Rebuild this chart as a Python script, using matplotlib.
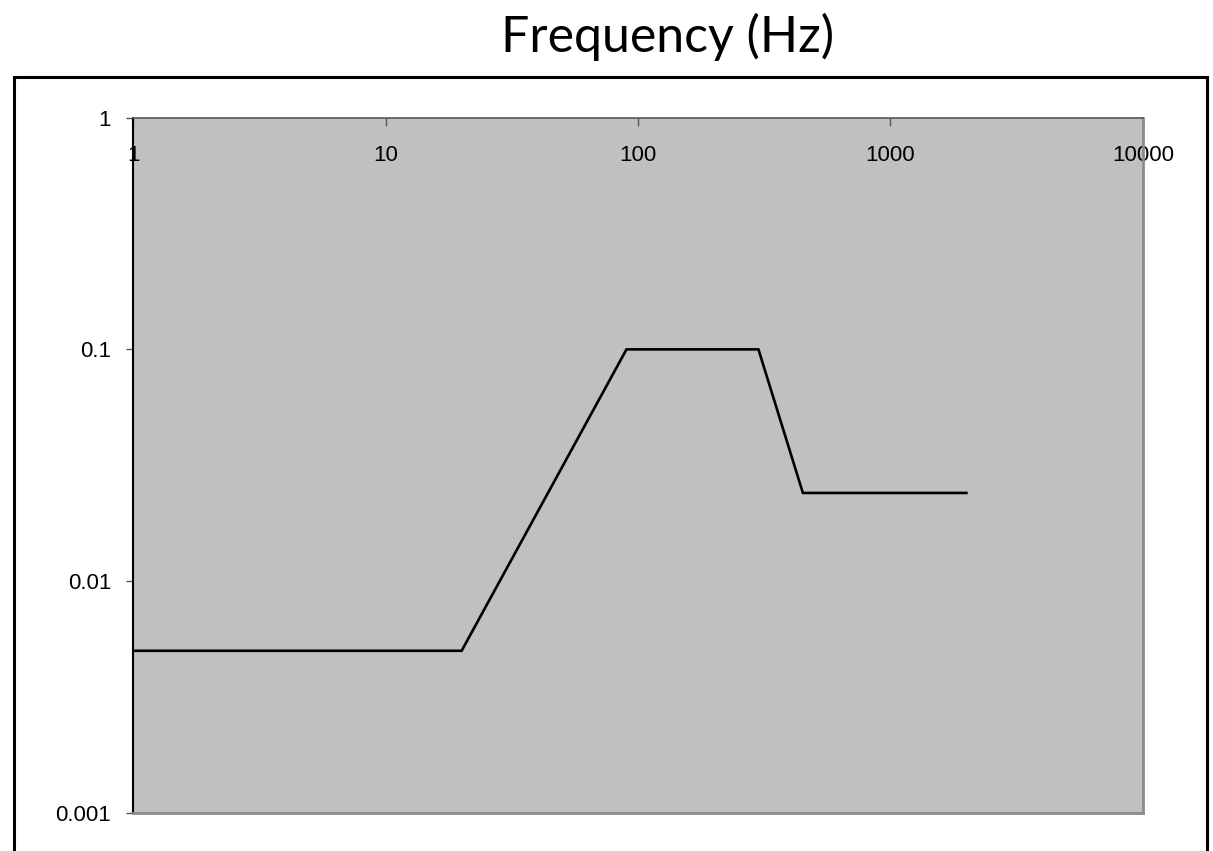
import matplotlib.pyplot as plt
from matplotlib.patches import Rectangle

# Data
freq = [1, 20, 90, 300, 450, 2000]
level = [0.005, 0.005, 0.1, 0.1, 0.024, 0.024]

x_ticks = [1, 10, 100, 1000, 10000]
x_labels = ["1", "10", "100", "1000", "10000"]
y_ticks = [0.001, 0.01, 0.1, 1]
y_labels = ["0.001", "0.01", "0.1", "1"]

fig = plt.figure(figsize=(12.13, 8.51), dpi=100)

# Outer frame (bottom edge runs off the picture)
fig.patches.append(Rectangle((0.0115, -0.02), 0.9835, 0.9295, transform=fig.transFigure,
                             fill=False, edgecolor="black", linewidth=2.2, zorder=0))

ax = fig.add_axes([0.1099, 0.045, 0.8322, 0.8167])
ax.set_facecolor("#C0C0C0")
ax.plot(freq, level, color="black", linewidth=1.9, solid_joinstyle="miter")

ax.set_xscale("log")
ax.set_yscale("log")
ax.set_xlim(1, 10000)
ax.set_ylim(0.001, 1)

ax.set_xticks(x_ticks)
ax.set_xticklabels(x_labels)
ax.set_yticks(y_ticks)
ax.set_yticklabels(y_labels)
ax.minorticks_off()

# x axis drawn along the top, labels sit inside the plot area
ax.tick_params(axis="x", top=True, bottom=False, labeltop=True, labelbottom=False,
               direction="in", length=6, width=1, color="#555555", pad=-34.5,
               labelsize=16)
ax.tick_params(axis="y", direction="out", length=5, width=1, color="#555555",
               pad=11, labelsize=16)
for lab in ax.get_xticklabels() + ax.get_yticklabels():
    lab.set_fontfamily("Liberation Sans")

ax.spines["left"].set_color("black")
ax.spines["left"].set_linewidth(1.5)
ax.spines["top"].set_color("#555555")
ax.spines["top"].set_linewidth(1.2)
ax.spines["right"].set_color("#8C8C8C")
ax.spines["right"].set_linewidth(2)
ax.spines["bottom"].set_color("#8C8C8C")
ax.spines["bottom"].set_linewidth(2)

fig.text(0.55, 0.957, "Frequency (Hz)", ha="center", va="center",
         fontsize=36, family="Lato")

fig.savefig("out.png", dpi=100)
